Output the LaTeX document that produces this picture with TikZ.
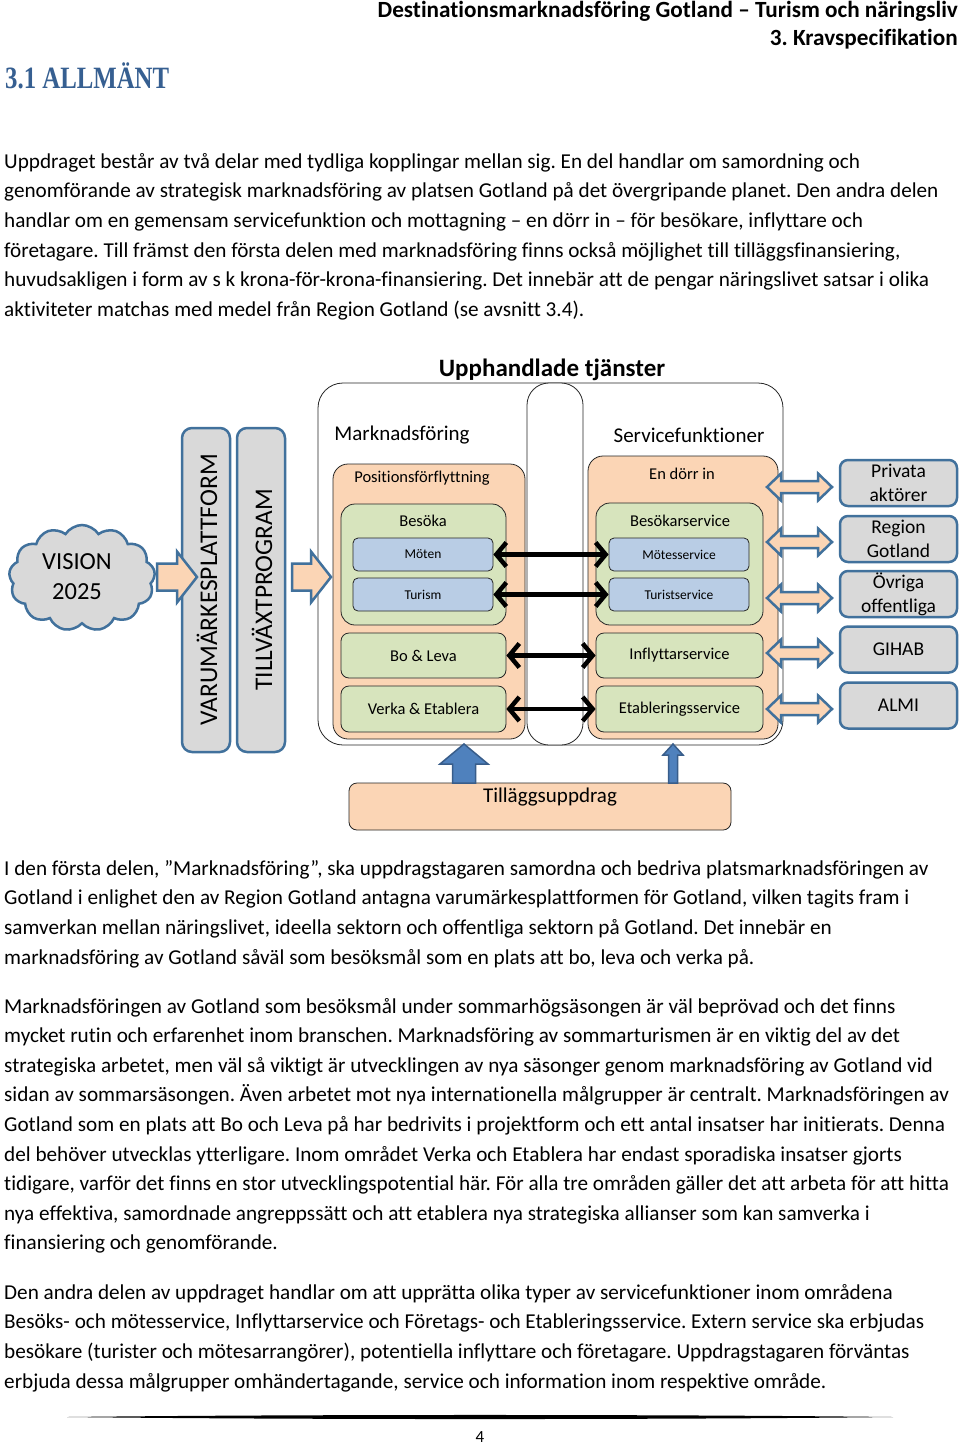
\documentclass[tikz,border=0pt]{standalone}
\usepackage{fontspec}
\setmainfont{Carlito}[Ligatures={TeX,NoCommon}]
\newfontfamily\headserif{Liberation Serif}
\usetikzlibrary{shapes.symbols,arrows.meta,calc}
\frenchspacing
\definecolor{peach}{HTML}{FBD5B5}
\definecolor{lgreen}{HTML}{D7E4BD}
\definecolor{lblue}{HTML}{B9CDE5}
\definecolor{lgray}{HTML}{D9D9D9}
\definecolor{bordblue}{HTML}{41719C}
\definecolor{headblue}{HTML}{365F91}
\definecolor{darrowfill}{HTML}{4F81BD}
\definecolor{darrowline}{HTML}{385D8A}
\newcommand\bodyline[3]{\node[bodytext] (#1) at (4,#2) {#3};}
% right pointing block arrow: style, start, tip, shaft half, head half, head length
\newcommand\rarrowshape[6]{\path[#1] let \p1=(#2), \p2=(#3) in
  (\x1,\y1+#4pt) -- (\x2-#6pt,\y1+#4pt) -- (\x2-#6pt,\y1+#5pt) -- (\x2,\y2)
  -- (\x2-#6pt,\y1-#5pt) -- (\x2-#6pt,\y1-#4pt) -- (\x1,\y1-#4pt) -- cycle;}
% double block arrow
\newcommand\darrowshape[6]{\path[#1] let \p1=(#2), \p2=(#3) in
  (\x1,\y1) -- (\x1+#6pt,\y1+#5pt) -- (\x1+#6pt,\y1+#4pt) -- (\x2-#6pt,\y1+#4pt)
  -- (\x2-#6pt,\y1+#5pt) -- (\x2,\y1) -- (\x2-#6pt,\y1-#5pt) -- (\x2-#6pt,\y1-#4pt)
  -- (\x1+#6pt,\y1-#4pt) -- (\x1+#6pt,\y1-#5pt) -- cycle;}
% upward block arrow: style, bottom, tip, shaft half, head half, head length
\newcommand\uarrowshape[6]{\path[#1] let \p1=(#2), \p2=(#3) in
  (\x1-#4pt,\y1) -- (\x1-#4pt,\y2-#6pt) -- (\x1-#5pt,\y2-#6pt) -- (\x2,\y2)
  -- (\x1+#5pt,\y2-#6pt) -- (\x1+#4pt,\y2-#6pt) -- (\x1+#4pt,\y1) -- cycle;}
\begin{document}
\begin{tikzpicture}[x=1pt,y=-1pt,
  every node/.style={inner sep=0pt},
  bodytext/.style={anchor=base west, font=\fontsize{21.2}{25}\selectfont},
  box/.style={draw=black!85, line width=0.8pt},
  outerbox/.style={box, fill=white, rounded corners=25pt},
  orangebox/.style={box, fill=peach, rounded corners=15pt},
  greenbox/.style={box, fill=lgreen, rounded corners=14pt},
  smallgreen/.style={box, fill=lgreen, rounded corners=8pt},
  bluebox/.style={box, fill=lblue, rounded corners=5pt},
  graybox/.style={draw=bordblue, line width=2.5pt, fill=lgray, rounded corners=8pt},
  barbox/.style={draw=bordblue, line width=2.5pt, fill=lgray, rounded corners=10pt},
  lbl/.style={font=\fontsize{16.5}{20}\selectfont},
  slbl/.style={font=\fontsize{13.5}{16}\selectfont},
  biglbl/.style={font=\fontsize{21}{25}\selectfont},
  peacharrow/.style={fill=peach, draw=bordblue, line width=2.5pt, line join=miter},
  bluearrow/.style={fill=darrowfill, draw=darrowline, line width=1.5pt},
  linkarrow/.style={line width=4.5pt, {Straight Barb[length=10pt,width=24pt]}-{Straight Barb[length=10pt,width=24pt]}}
]
\fill[white] (0,0) rectangle (960,1446);
\useasboundingbox (0,0) rectangle (960,1446);

% header
\node[anchor=base east, font=\bfseries\fontsize{23.2}{26}\selectfont] (hdr1) at (958,17.5) {Destinationsmarknadsföring Gotland – Turism och näringsliv};
\node[anchor=base east, font=\bfseries\fontsize{23.2}{26}\selectfont] (hdr2) at (958,45) {3. Kravspecifikation};
\node[anchor=base west, text=headblue, font=\headserif\bfseries\fontsize{31}{34}\selectfont] (h31) at (5,88) {\scalebox{0.8}[1]{3.1 ALLMÄNT}};

% paragraph 1
\bodyline{p1a}{168}{Uppdraget består av två delar med tydliga kopplingar mellan sig. En del handlar om samordning och}
\bodyline{p1b}{197.7}{genomförande av strategisk marknadsföring av platsen Gotland på det övergripande planet. Den andra delen}
\bodyline{p1c}{227.4}{handlar om en gemensam servicefunktion och mottagning – en dörr in – för besökare, inflyttare och}
\bodyline{p1d}{257.1}{företagare. Till främst den första delen med marknadsföring finns också möjlighet till tilläggsfinansiering,}
\bodyline{p1e}{286.8}{huvudsakligen i form av s k krona-för-krona-finansiering. Det innebär att de pengar näringslivet satsar i olika}
\bodyline{p1f}{316.5}{aktiviteter matchas med medel från Region Gotland (se avsnitt 3.4).}

% paragraph 2
\bodyline{p2a}{875}{I den första delen, ”Marknadsföring”, ska uppdragstagaren samordna och bedriva platsmarknadsföringen av}
\bodyline{p2b}{904.7}{Gotland i enlighet den av Region Gotland antagna varumärkesplattformen för Gotland, vilken tagits fram i}
\bodyline{p2c}{934.4}{samverkan mellan näringslivet, ideella sektorn och offentliga sektorn på Gotland. Det innebär en}
\bodyline{p2d}{964.1}{marknadsföring av Gotland såväl som besöksmål som en plats att bo, leva och verka på.}

% paragraph 3
\bodyline{p3a}{1013}{Marknadsföringen av Gotland som besöksmål under sommarhögsäsongen är väl beprövad och det finns}
\bodyline{p3b}{1042.6}{mycket rutin och erfarenhet inom branschen. Marknadsföring av sommarturismen är en viktig del av det}
\bodyline{p3c}{1072.2}{strategiska arbetet, men väl så viktigt är utvecklingen av nya säsonger genom marknadsföring av Gotland vid}
\bodyline{p3d}{1101.8}{sidan av sommarsäsongen. Även arbetet mot nya internationella målgrupper är centralt. Marknadsföringen av}
\bodyline{p3e}{1131.4}{Gotland som en plats att Bo och Leva på har bedrivits i projektform och ett antal insatser har initierats. Denna}
\bodyline{p3f}{1161}{del behöver utvecklas ytterligare. Inom området Verka och Etablera har endast sporadiska insatser gjorts}
\bodyline{p3g}{1190.6}{tidigare, varför det finns en stor utvecklingspotential här. För alla tre områden gäller det att arbeta för att hitta}
\bodyline{p3h}{1220.2}{nya effektiva, samordnade angreppssätt och att etablera nya strategiska allianser som kan samverka i}
\bodyline{p3i}{1249.8}{finansiering och genomförande.}

% paragraph 4
\bodyline{p4a}{1299}{Den andra delen av uppdraget handlar om att upprätta olika typer av servicefunktioner inom områdena}
\bodyline{p4b}{1328.7}{Besöks- och mötesservice, Inflyttarservice och Företags- och Etableringsservice. Extern service ska erbjudas}
\bodyline{p4c}{1358.4}{besökare (turister och mötesarrangörer), potentiella inflyttare och företagare. Uppdragstagaren förväntas}
\bodyline{p4d}{1388.1}{erbjuda dessa målgrupper omhändertagande, service och information inom respektive område.}

% footer
\fill[black] (67,1417) .. controls (300,1414.3) and (660,1414.3) .. (893,1417) .. controls (660,1419.7) and (300,1419.7) .. (67,1417) -- cycle;
\node[font=\fontsize{17}{20}\selectfont] (pageno) at (480,1437) {4};

% ---------------- diagram ----------------
\node[font=\bfseries\fontsize{25}{28}\selectfont, anchor=base] (title) at (552,376) {Upphandlade tjänster};

\node[outerbox, minimum width=465pt, minimum height=362pt] (outer) at (550.5,564) {};
\node[outerbox, rounded corners=22pt, minimum width=56pt, minimum height=362pt] (pill) at (555,564) {};

\node[biglbl] (mfl) at (402,435) {Marknadsföring};
\node[biglbl] (sfl) at (689,435) {Servicefunktioner};

% left column
\node[orangebox, minimum width=192pt, minimum height=275pt] (orangeL) at (429,601.5) {};
\node[lbl] (posl) at (422,478) {Positionsförflyttning};
\node[greenbox, minimum width=165pt, minimum height=121pt] (besoka) at (423.5,564.5) {};
\node[lbl] (besokal) at (423,521) {Besöka};
\node[bluebox, minimum width=140pt, minimum height=33pt, slbl] (moeten) at (423,554.5) {Möten};
\node[bluebox, minimum width=140pt, minimum height=33pt, slbl] (turism) at (423,594.5) {Turism};
\node[smallgreen, minimum width=165pt, minimum height=45pt, lbl] (boleva) at (423.5,655.5) {Bo \& Leva};
\node[smallgreen, minimum width=165pt, minimum height=46pt, lbl] (verka) at (423.5,709) {Verka \& Etablera};

% right column
\node[orangebox, minimum width=190pt, minimum height=283pt] (orangeR) at (683,597.5) {};
\node[lbl] (dorrl) at (682,474) {En dörr in};
\node[greenbox, minimum width=167pt, minimum height=122pt] (besokar) at (679.5,564) {};
\node[lbl] (besokarl) at (680,521) {Besökarservice};
\node[bluebox, minimum width=140pt, minimum height=33pt, slbl] (motes) at (679,554.5) {Mötesservice};
\node[bluebox, minimum width=140pt, minimum height=33pt, slbl] (turist) at (679,594.5) {Turistservice};
\node[smallgreen, minimum width=167pt, minimum height=45pt, lbl] (inflytt) at (679.5,655.5) {Inflyttarservice};
\node[smallgreen, minimum width=167pt, minimum height=46pt, lbl] (etabl) at (679.5,709) {Etableringsservice};

% links
\draw[linkarrow] (moeten.east) -- (motes.west);
\draw[linkarrow] (turism.east) -- (turist.west);
\draw[linkarrow] (boleva.east) -- (inflytt.west);
\draw[linkarrow] (verka.east) -- (etabl.west);

% external actors
\node[graybox, minimum width=117pt, minimum height=46pt, align=center, font=\fontsize{19.5}{24}\selectfont] (privata) at (898.5,483) {Privata\\aktörer};
\node[graybox, minimum width=117pt, minimum height=46pt, align=center, font=\fontsize{19.5}{24}\selectfont] (region) at (898.5,539) {Region\\Gotland};
\node[graybox, minimum width=117pt, minimum height=46pt, align=center, font=\fontsize{19.5}{24}\selectfont] (ovriga) at (898.5,594) {Övriga\\offentliga};
\node[graybox, minimum width=117pt, minimum height=46pt, font=\fontsize{19.5}{24}\selectfont] (gihab) at (898.5,649.5) {GIHAB};
\node[graybox, minimum width=117pt, minimum height=46pt, font=\fontsize{19.5}{24}\selectfont] (almi) at (898.5,705.5) {ALMI};

\coordinate (d1a) at (767,487);   \coordinate (d1b) at (832,487);
\coordinate (d2a) at (767,542);   \coordinate (d2b) at (832,542);
\coordinate (d3a) at (767,598);   \coordinate (d3b) at (832,598);
\coordinate (d4a) at (767,653);   \coordinate (d4b) at (832,653);
\coordinate (d5a) at (767,709);   \coordinate (d5b) at (832,709);
\darrowshape{peacharrow}{d1a}{d1b}{6}{13.5}{14}
\darrowshape{peacharrow}{d2a}{d2b}{6}{13.5}{14}
\darrowshape{peacharrow}{d3a}{d3b}{6}{13.5}{14}
\darrowshape{peacharrow}{d4a}{d4b}{6}{13.5}{14}
\darrowshape{peacharrow}{d5a}{d5b}{6}{13.5}{14}

% left side
\node[cloud, cloud puffs=13, cloud puff arc=115, aspect=1.35, draw=bordblue, line width=2.5pt, fill=lgray, minimum width=146pt, minimum height=106pt] (cloud) at (82,578) {};
\node[align=center, font=\fontsize{24.5}{30}\selectfont] (vision) at (77,577) {VISION\\2025};
\node[barbox, minimum width=48pt, minimum height=324pt] (varum) at (206,590) {};
\node[rotate=90, font=\fontsize{25.5}{28}\selectfont] (varumt) at (207,590) {VARUMÄRKESPLATTFORM};
\node[barbox, minimum width=48pt, minimum height=324pt] (tillv) at (261,590) {};
\node[rotate=90, font=\fontsize{25.4}{28}\selectfont] (tillvt) at (262,590) {TILLVÄXTPROGRAM};

\coordinate (a1s) at (157,577); \coordinate (a1t) at (197,577);
\coordinate (a2s) at (292,577); \coordinate (a2t) at (331,577);
\rarrowshape{peacharrow}{a1s}{a1t}{13.5}{25.5}{20}
\rarrowshape{peacharrow}{a2s}{a2t}{13.5}{25.5}{20}

% bottom
\node[box, fill=peach, rounded corners=8pt, minimum width=382pt, minimum height=47pt] (tillagg) at (540,806.5) {};
\node[biglbl] (tillaggl) at (550,797) {Tilläggsuppdrag};
\coordinate (u1b) at (464,783); \coordinate (u1t) at (464,744);
\coordinate (u2b) at (673,783); \coordinate (u2t) at (673,744);
\uarrowshape{bluearrow}{u1b}{u1t}{11.5}{24}{20}
\uarrowshape{bluearrow}{u2b}{u2t}{4.5}{10}{11}
\end{tikzpicture}
\end{document}
